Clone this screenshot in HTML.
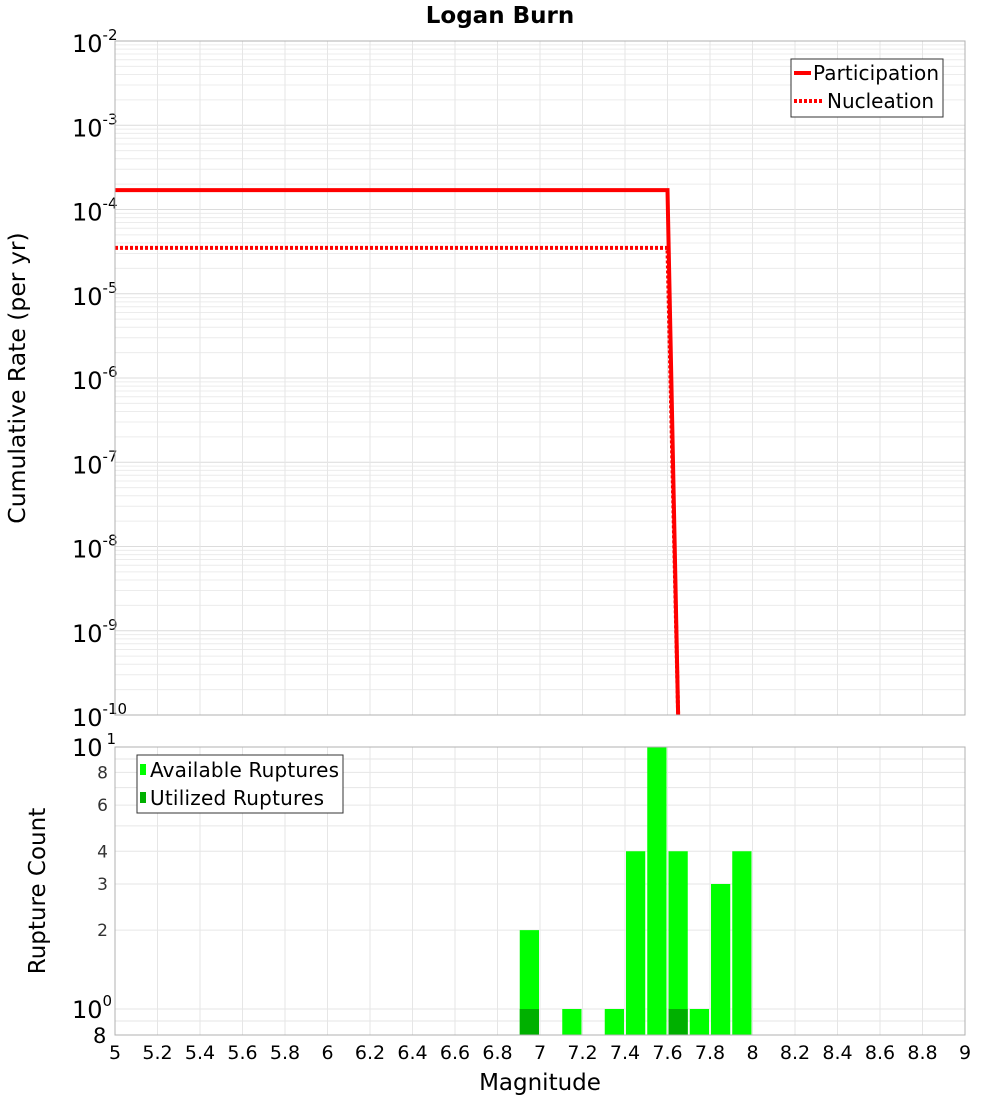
<!DOCTYPE html>
<html><head><meta charset="utf-8"><style>
body{margin:0;background:#fff;font-family:"Liberation Sans","DejaVu Sans",sans-serif}
svg text{font-family:"DejaVu Sans","Liberation Sans",sans-serif}
</style></head><body>
<svg id="c" width="1000" height="1100" xmlns="http://www.w3.org/2000/svg">
<text x="500" y="23" text-anchor="middle" font-size="23" font-weight="bold">Logan Burn</text>
<text transform="translate(25,378) rotate(-90)" text-anchor="middle" font-size="23.5">Cumulative Rate (per yr)</text>
<text transform="translate(45,891) rotate(-90)" text-anchor="middle" font-size="23">Rupture Count</text>
<text x="540" y="1090" text-anchor="middle" font-size="23">Magnitude</text>
<g id="g"></g>
</svg>
<script>
const partMags=[5.0,7.6,7.65];
const partRates=[1.7e-4,1.7e-4,1e-10];
const nuclMags=[5.0,7.6,7.65];
const nuclRates=[3.5e-5,3.5e-5,1e-10];
const binCenters=[6.95,7.15,7.35,7.45,7.55,7.65,7.75,7.85,7.95];
const availCounts=[2,1,1,4,10,4,1,3,4];
const utilCounts=[1,0,0,0,0,1,0,0,0];
const xTicks=[5,5.2,5.4,5.6,5.8,6,6.2,6.4,6.6,6.8,7,7.2,7.4,7.6,7.8,8,8.2,8.4,8.6,8.8,9];
const topExps=[-2,-3,-4,-5,-6,-7,-8,-9,-10];
const botTicks=[8,6,4,3,2];

const NS="http://www.w3.org/2000/svg";
const g=document.getElementById('g');
function el(t,a,p){const e=document.createElementNS(NS,t);for(const k in a)e.setAttribute(k,a[k]);(p||g).appendChild(e);return e;}
const X0=115,X1=965;
const xs=m=>X0+(m-5)/(9-5)*(X1-X0);
const TY0=41,TY1=715;
const ty=v=>TY0+(-2-Math.log10(v))/8*(TY1-TY0);
const BY0=747,BY1=1035,BDEC=262;
const by=v=>BY0+(1-Math.log10(v))*BDEC;

for(let e=-10;e<-2;e++){for(let k=2;k<=9;k++){const y=ty(k*Math.pow(10,e));const l=el('line',{x1:X0,x2:X1,y1:y,y2:y,stroke:'#ececec','stroke-width':1});}}
topExps.forEach(e=>{const y=ty(Math.pow(10,e));const l=el('line',{x1:X0,x2:X1,y1:y,y2:y,stroke:'#dcdcdc'});});
xTicks.forEach(m=>{const x=xs(m);const l=el('line',{x1:x,x2:x,y1:TY0,y2:TY1,stroke:'#e6e6e6'});
 const l2=el('line',{x1:x,x2:x,y1:BY0,y2:BY1,stroke:'#e6e6e6'});});
[0.9,1,2,3,4,5,6,7,8,9].forEach(v=>{const y=by(v);const l=el('line',{x1:X0,x2:X1,y1:y,y2:y,stroke:'#e6e6e6'});});

topExps.forEach(e=>{const y=ty(Math.pow(10,e));const t=el('text',{x:72,y:y+11,'font-size':24});
 t.textContent='10';const s=el('tspan',{dy:-12,'font-size':15},t);s.textContent=String(e);});

function line(ms,rs,dash,name){const pts=ms.map((m,i)=>xs(m)+','+Math.min(ty(rs[i]),TY1+5)).join(' ');const p=el('polyline',{points:pts,fill:'none',stroke:'#ff0000','stroke-width':4,'stroke-dasharray':dash});}
line(nuclMags,nuclRates,'3,2','nucleation-line');
line(partMags,partRates,'none','participation-line');

let f=el('rect',{x:X0,y:TY0,width:X1-X0,height:TY1-TY0,fill:'none',stroke:'#b0b0b0'});

const lg=el('g',{});
el('rect',{x:791,y:59,width:152,height:58,fill:'#fff',stroke:'#333'},lg);
el('line',{x1:794,x2:811,y1:73,y2:73,stroke:'#f00','stroke-width':4},lg);
el('line',{x1:794,x2:822,y1:101,y2:101,stroke:'#f00','stroke-width':4,'stroke-dasharray':'3,2'},lg);
let t=el('text',{x:813,y:80,'font-size':20,textLength:126},lg);t.textContent='Participation';
t=el('text',{x:827,y:108,'font-size':20,textLength:107},lg);t.textContent='Nucleation';

const bw=(X1-X0)/40;
binCenters.forEach((c,i)=>{const x=xs(c)-bw/2+1;const y=by(availCounts[i]);
 const r=el('rect',{x:x,y:y,width:bw-2,height:BY1-y,fill:'#00ff00'});
 if(utilCounts[i]>0){const yu=by(utilCounts[i]);const u=el('rect',{x:x,y:yu,width:bw-2,height:BY1-yu,fill:'#00b000'});}});
f=el('rect',{x:X0,y:BY0,width:X1-X0,height:BY1-BY0,fill:'none',stroke:'#b0b0b0'});

botTicks.forEach(v=>{const tt=el('text',{x:108,y:by(v)+6,'font-size':17,'text-anchor':'end',fill:'#333'});tt.textContent=String(v);});
t=el('text',{x:72,y:756,'font-size':24});t.textContent='10';let s=el('tspan',{dy:-12,dx:4,'font-size':15},t);s.textContent='1';
t=el('text',{x:72,y:1018,'font-size':24});t.textContent='10';s=el('tspan',{dy:-12,'font-size':15},t);s.textContent='0';
t=el('text',{x:93,y:1043,'font-size':21});t.textContent='8';

xTicks.forEach(m=>{const tt=el('text',{x:xs(m),y:1059,'font-size':19,'text-anchor':'middle'});tt.textContent=String(m);});

const bl=el('g',{});
el('rect',{x:137,y:755,width:206,height:58,fill:'#fff',stroke:'#333'},bl);
el('rect',{x:140,y:764,width:6,height:11,fill:'#00ff00'},bl);
el('rect',{x:140,y:792,width:6,height:11,fill:'#00b000'},bl);
t=el('text',{x:150,y:777,'font-size':20,textLength:189},bl);t.textContent='Available Ruptures';
t=el('text',{x:150,y:805,'font-size':20,textLength:174},bl);t.textContent='Utilized Ruptures';
</script>
</body></html>
